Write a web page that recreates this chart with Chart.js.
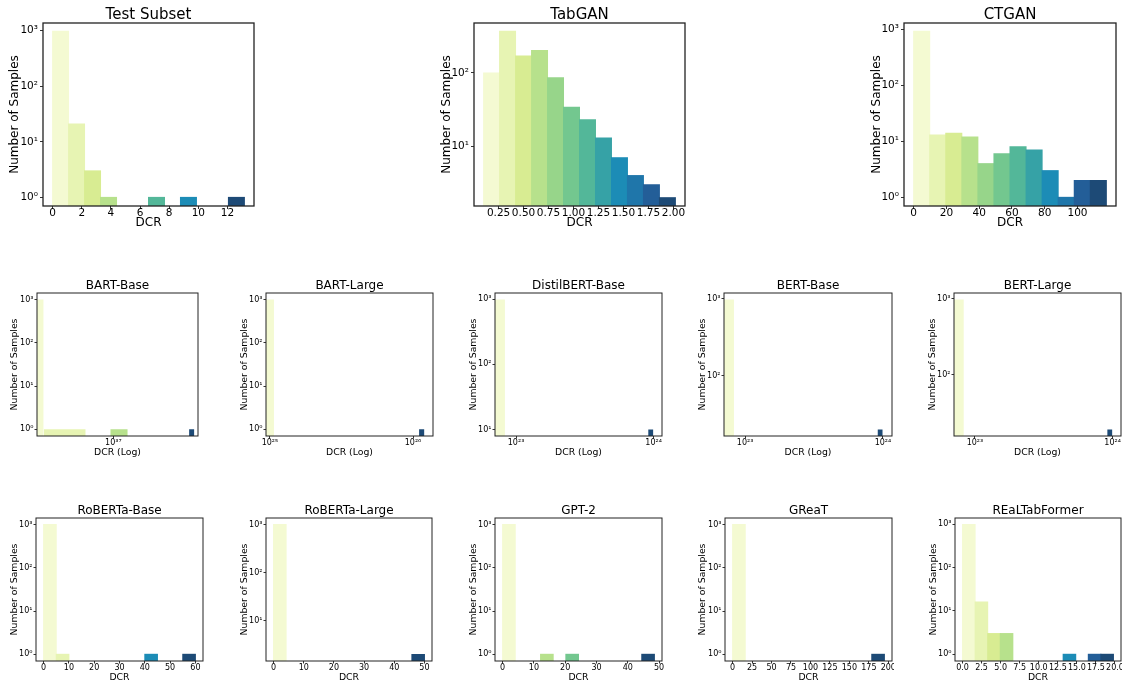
<!DOCTYPE html>
<html>
<head>
<meta charset="utf-8">
<script src="https://cdn.jsdelivr.net/npm/chart.js@4.4.1/dist/chart.umd.min.js"></script>
<style>
  body { margin: 0; width: 1122px; height: 680px; background: #fff; position: relative; overflow: hidden; }
  .panel { position: absolute; }
</style>
</head>
<body>
<script>
// 12 bin colours, light yellow -> dark blue
const binColors = ['#f4fad2', '#e7f4b3', '#d8ec92', '#b7e18c', '#97d58a', '#73c78f',
                   '#53b799', '#36a2a6', '#1c8cb6', '#1f76aa', '#235e98', '#1d4a76'];

// top row
const testEdges = [0, 1.097, 2.193, 3.29, 4.387, 5.483, 6.58, 7.677, 8.773, 9.87, 10.967, 12.063, 13.16];
const testCounts = [972, 21, 3, 1, 0, 0, 1, 0, 1, 0, 0, 1];
const testTicks = [0, 2, 4, 6, 8, 10, 12];

const tabganEdges = [0.10, 0.26, 0.42, 0.58, 0.74, 0.90, 1.06, 1.22, 1.38, 1.54, 1.70, 1.86, 2.02];
const tabganCounts = [100, 368, 170, 202, 86, 34, 23, 13, 7, 4, 3, 2];
const tabganTicks = [0.25, 0.5, 0.75, 1.0, 1.25, 1.5, 1.75, 2.0];

const ctganEdges = [0, 9.8, 19.6, 29.4, 39.2, 49, 58.8, 68.6, 78.4, 88.2, 98, 107.8, 117.6];
const ctganCounts = [928, 13, 14, 12, 4, 6, 8, 7, 3, 1, 2, 2];
const ctganTicks = [0, 20, 40, 60, 80, 100];

// middle row (log DCR)
const bartBaseEdges = [0, 3.17e36, 6.34e36, 9.51e36, 1.268e37, 1.585e37, 1.902e37, 2.219e37, 2.536e37, 2.853e37, 3.17e37, 3.487e37, 3.804e37];
const bartBaseCounts = [997, 1, 0, 1, 0, 0, 0, 0, 0, 0, 0, 1];
const bartBaseTicks = [1e37];

const bartLargeEdges = [7.1e23, 1.066e25, 2.061e25, 3.056e25, 4.051e25, 5.046e25, 6.041e25, 7.036e25, 8.031e25, 9.026e25, 1.0021e26, 1.1016e26, 1.2011e26];
const bartLargeCounts = [999, 0, 0, 0, 0, 0, 0, 0, 0, 0, 0, 1];
const bartLargeTicks = [1e25, 1e26];

const bertEdges = [0, 8.3e22, 1.66e23, 2.49e23, 3.32e23, 4.15e23, 4.98e23, 5.81e23, 6.64e23, 7.47e23, 8.3e23, 9.13e23, 9.96e23];
const distilCounts = [990, 0, 0, 0, 0, 0, 0, 0, 0, 0, 0, 10];
const bertBaseCounts = [980, 0, 0, 0, 0, 0, 0, 0, 0, 0, 0, 20];
const bertLargeCounts = [981, 0, 0, 0, 0, 0, 0, 0, 0, 0, 0, 19];
const bertTicks = [1e23, 1e24];

// bottom row
const robertaBaseEdges = [0, 5, 10, 15, 20, 25, 30, 35, 40, 45, 50, 55, 60];
const robertaBaseCounts = [997, 1, 0, 0, 0, 0, 0, 0, 1, 0, 0, 1];
const robertaBaseTicks = [0, 10, 20, 30, 40, 50, 60];

const robertaLargeEdges = [0, 4.167, 8.333, 12.5, 16.667, 20.833, 25, 29.167, 33.333, 37.5, 41.667, 45.833, 50];
const robertaLargeCounts = [998, 0, 0, 0, 0, 0, 0, 0, 0, 0, 0, 2];
const robertaLargeTicks = [0, 10, 20, 30, 40, 50];

const gpt2Edges = [0, 4.042, 8.083, 12.125, 16.167, 20.208, 24.25, 28.292, 32.333, 36.375, 40.417, 44.458, 48.5];
const gpt2Counts = [997, 0, 0, 1, 0, 1, 0, 0, 0, 0, 0, 1];
const gpt2Ticks = [0, 10, 20, 30, 40, 50];

const greatEdges = [0, 16.25, 32.5, 48.75, 65, 81.25, 97.5, 113.75, 130, 146.25, 162.5, 178.75, 195];
const greatCounts = [999, 0, 0, 0, 0, 0, 0, 0, 0, 0, 0, 1];
const greatTicks = [0, 25, 50, 75, 100, 125, 150, 175, 200];

const realEdges = [0, 1.65, 3.3, 4.95, 6.6, 8.25, 9.9, 11.55, 13.2, 14.85, 16.5, 18.15, 19.8];
const realCounts = [975, 16, 3, 3, 0, 0, 0, 0, 1, 0, 1, 1];
const realTicks = [0, 2.5, 5, 7.5, 10, 12.5, 15, 17.5, 20];

Chart.defaults.font.family = "'DejaVu Sans', sans-serif";
Chart.defaults.color = '#000';
Chart.defaults.animation = false;

const big = { title: 15, titleLH: 16, label: 12, labelLH: 14, tick: 10.5, xH: 24, spine: 1.3, tickLen: 3, yPad: 2, xPad: -1 };
const small = { title: 12, titleLH: 14, label: 9.3, labelLH: 11, tick: 8, xH: 22, spine: 1, tickLen: 2.5, yPad: 1, xPad: 0 };

const panels = [
  { title: 'Test Subset', edges: testEdges, counts: testCounts, ticks: testTicks, dec: 0, xLabel: 'DCR', box: [43, 23, 254, 206], yTitleX: 15, style: big },
  { title: 'TabGAN', edges: tabganEdges, counts: tabganCounts, ticks: tabganTicks, dec: 2, xLabel: 'DCR', box: [474, 23, 685, 206], yTitleX: 447, style: big },
  { title: 'CTGAN', edges: ctganEdges, counts: ctganCounts, ticks: ctganTicks, dec: 0, xLabel: 'DCR', box: [904, 23, 1116, 206], yTitleX: 877, style: big },

  { title: 'BART-Base', edges: bartBaseEdges, counts: bartBaseCounts, ticks: bartBaseTicks, xLog: true, xLim: [2.84e36, 4.04e37], xLabel: 'DCR (Log)', box: [37, 293, 198, 436], yTitleX: 14, style: small },
  { title: 'BART-Large', edges: bartLargeEdges, counts: bartLargeCounts, ticks: bartLargeTicks, xLog: true, xLim: [9.38e24, 1.379e26], xLabel: 'DCR (Log)', box: [266, 293, 433, 436], yTitleX: 244, style: small },
  { title: 'DistilBERT-Base', edges: bertEdges, counts: distilCounts, ticks: bertTicks, xLog: true, xLim: [7.03e22, 1.151e24], xLabel: 'DCR (Log)', box: [495, 293, 662, 436], yTitleX: 473, style: small },
  { title: 'BERT-Base', edges: bertEdges, counts: bertBaseCounts, ticks: bertTicks, xLog: true, xLim: [7.03e22, 1.163e24], xLabel: 'DCR (Log)', box: [724, 293, 892, 436], yTitleX: 702, style: small },
  { title: 'BERT-Large', edges: bertEdges, counts: bertLargeCounts, ticks: bertTicks, xLog: true, xLim: [7.04e22, 1.15e24], xLabel: 'DCR (Log)', box: [954, 293, 1121, 436], yTitleX: 932, style: small },

  { title: 'RoBERTa-Base', edges: robertaBaseEdges, counts: robertaBaseCounts, ticks: robertaBaseTicks, dec: 0, xLabel: 'DCR', box: [36, 518, 203, 661], yTitleX: 14, style: small },
  { title: 'RoBERTa-Large', edges: robertaLargeEdges, counts: robertaLargeCounts, ticks: robertaLargeTicks, dec: 0, xLabel: 'DCR', box: [266, 518, 432, 661], yTitleX: 244, style: small },
  { title: 'GPT-2', edges: gpt2Edges, counts: gpt2Counts, ticks: gpt2Ticks, dec: 0, xLabel: 'DCR', box: [495, 518, 662, 661], yTitleX: 473, style: small },
  { title: 'GReaT', edges: greatEdges, counts: greatCounts, ticks: greatTicks, dec: 0, xLabel: 'DCR', box: [725, 518, 892, 661], yTitleX: 702, style: small },
  { title: 'REaLTabFormer', edges: realEdges, counts: realCounts, ticks: realTicks, dec: 1, xLabel: 'DCR', box: [955, 518, 1121, 661], yTitleX: 933, style: small }
];

const sup = { '0': '⁰', '1': '¹', '2': '²', '3': '³', '4': '⁴', '5': '⁵', '6': '⁶', '7': '⁷', '8': '⁸', '9': '⁹', '-': '⁻' };
const pow10 = v => '10' + String(Math.round(Math.log10(v))).split('').map(c => sup[c]).join('');

// box around the plot area (all four spines)
const frame = {
  id: 'frame',
  afterDraw(chart, args, opts) {
    const a = chart.chartArea, ctx = chart.ctx;
    ctx.save();
    ctx.strokeStyle = '#222';
    ctx.lineWidth = opts.width;
    ctx.strokeRect(a.left, a.top, a.right - a.left, a.bottom - a.top);
    ctx.restore();
  }
};

function drawPanel(p) {
  const s = p.style;
  const [L, T, R, B] = p.box;
  const cl = Math.round(p.yTitleX - s.labelLH / 2);
  const ct = T - s.titleLH;
  const div = document.createElement('div');
  div.className = 'panel';
  div.style.left = cl + 'px';
  div.style.top = ct + 'px';
  div.style.width = (R - cl + 2) + 'px';
  div.style.height = (s.titleLH + B - T + s.xH) + 'px';
  const cv = document.createElement('canvas');
  div.appendChild(cv);
  document.body.appendChild(div);

  const yW = L - cl;
  const nz = p.counts.filter(c => c > 0);
  const lo = Math.log10(Math.min(...nz)), hi = Math.log10(Math.max(...nz));
  const m = 0.05 * (hi - lo);
  const yMin = Math.pow(10, lo - m), yMax = Math.pow(10, hi + m);

  let xMin, xMax, type, datasets;
  if (p.xLog) {
    // unequal widths on a log axis: each bin is a filled step from its left to right edge
    [xMin, xMax] = p.xLim;
    type = 'line';
    datasets = [];
    p.counts.forEach((c, i) => {
      if (!c) return;
      datasets.push({
        data: [{ x: Math.max(p.edges[i], xMin), y: c }, { x: p.edges[i + 1], y: c }],
        backgroundColor: binColors[i],
        borderColor: 'transparent',
        borderWidth: 0,
        pointRadius: 0,
        fill: 'start',
        tension: 0
      });
    });
  } else {
    const a = p.edges[0], b = p.edges[p.edges.length - 1];
    xMin = a - 0.05 * (b - a);
    xMax = b + 0.05 * (b - a);
    type = 'bar';
    datasets = [{
      data: p.counts.map((c, i) => ({ x: (p.edges[i] + p.edges[i + 1]) / 2, y: c > 0 ? c : null })),
      backgroundColor: binColors,
      borderWidth: 0,
      barPercentage: 1,
      categoryPercentage: 1,
      inflateAmount: 0.5
    }];
  }

  const decades = [];
  for (let k = Math.ceil(Math.log10(yMin)); k <= Math.floor(Math.log10(yMax)); k++) decades.push(Math.pow(10, k));

  new Chart(cv, {
    type: type,
    data: { datasets: datasets },
    options: {
      responsive: true,
      maintainAspectRatio: false,
      devicePixelRatio: 1,
      layout: { padding: { left: 0, right: 2, top: 0, bottom: 0 } },
      plugins: {
        legend: { display: false },
        tooltip: { enabled: false },
        title: {
          display: true, text: p.title, fullSize: false, color: '#000',
          font: { size: s.title, weight: 'normal', lineHeight: s.titleLH / s.title },
          padding: { top: 0, bottom: 0 }
        },
        frame: { width: s.spine }
      },
      scales: {
        x: {
          type: p.xLog ? 'logarithmic' : 'linear',
          min: xMin, max: xMax,
          offset: false,
          border: { display: false },
          grid: { offset: false, drawOnChartArea: false, drawTicks: true, tickLength: s.tickLen, color: '#000', lineWidth: 0.8 },
          ticks: {
            autoSkip: false, maxRotation: 0, minRotation: 0, padding: s.xPad,
            font: { size: s.tick, lineHeight: 1 },
            callback: v => p.xLog ? pow10(v) : Number(v).toFixed(p.dec)
          },
          title: { display: true, text: p.xLabel, font: { size: s.label, lineHeight: s.labelLH / s.label }, padding: 0 },
          afterBuildTicks: sc => { sc.ticks = p.ticks.map(v => ({ value: v })); },
          afterFit: sc => { sc.height = s.xH; sc.paddingLeft = 0; sc.paddingRight = 0; }
        },
        y: {
          type: 'logarithmic',
          min: yMin, max: yMax,
          border: { display: false },
          grid: { drawOnChartArea: false, drawTicks: true, tickLength: s.tickLen, color: '#000', lineWidth: 0.8 },
          ticks: { padding: s.yPad, font: { size: s.tick }, callback: v => pow10(v) },
          title: { display: true, text: 'Number of Samples', font: { size: s.label, lineHeight: s.labelLH / s.label }, padding: 0 },
          afterBuildTicks: sc => { sc.ticks = decades.map(v => ({ value: v })); },
          afterFit: sc => { sc.width = yW; sc.paddingTop = 0; sc.paddingBottom = 0; }
        }
      }
    },
    plugins: [frame]
  });
}

panels.forEach(drawPanel);
</script>
</body>
</html>
